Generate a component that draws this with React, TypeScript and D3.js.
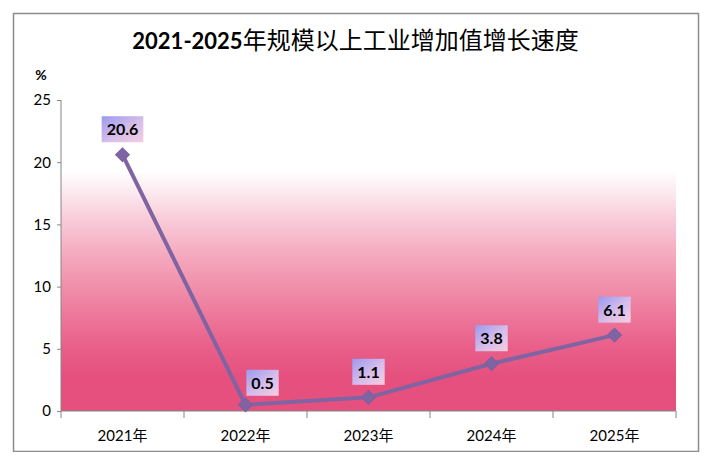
import { useEffect, useRef } from "react";
import * as d3 from "d3";

const categories = ["2021年", "2022年", "2023年", "2024年", "2025年"];
const growth = [20.6, 0.5, 1.1, 3.8, 6.1];
const yTicks = [0, 5, 10, 15, 20, 25];
const titleNum = "2021-2025";
const titleText = "年规模以上工业增加值增长速度";

const FONT = "Lato, 'Noto Sans CJK SC', sans-serif";

export default function App() {
  const svgRef = useRef<SVGSVGElement>(null);

  useEffect(() => {
    if (!svgRef.current) return;
    const width = 711;
    const height = 460;
    const margin = { top: 100, right: 35, bottom: 49, left: 61 };
    const innerW = width - margin.left - margin.right;
    const innerH = height - margin.top - margin.bottom;

    const svg = d3.select(svgRef.current).attr("width", width).attr("height", height);
    svg.selectAll("*").remove();

    const defs = svg.append("defs");
    const bg = defs
      .append("linearGradient")
      .attr("id", "plotBg")
      .attr("x1", 0)
      .attr("y1", 0)
      .attr("x2", 0)
      .attr("y2", 1);
    [
      ["0%", "#ffffff"],
      ["23%", "#ffffff"],
      ["37%", "#f9d0dc"],
      ["51%", "#f4a6bc"],
      ["64%", "#ef85a4"],
      ["79%", "#e9608a"],
      ["89%", "#e5507f"],
      ["100%", "#e5507f"],
    ].forEach(([o, c]) => bg.append("stop").attr("offset", o).attr("stop-color", c));

    const lab = defs
      .append("linearGradient")
      .attr("id", "labBg")
      .attr("x1", 0)
      .attr("y1", 0)
      .attr("x2", 1)
      .attr("y2", 1);
    [
      ["0%", "#9a9af0"],
      ["55%", "#d7bdea"],
      ["100%", "#f6cde0"],
    ].forEach(([o, c]) => lab.append("stop").attr("offset", o).attr("stop-color", c));

    // chart border
    svg
      .append("rect")
      .attr("x", 13.5)
      .attr("y", 13.5)
      .attr("width", 685)
      .attr("height", 438)
      .attr("fill", "#ffffff")
      .attr("stroke", "#8c8c8c")
      .attr("stroke-width", 1.5);

    const title = svg
      .append("text")
      .attr("x", 355.5)
      .attr("y", 49)
      .attr("text-anchor", "middle")
      .style("font-family", FONT)
      .style("fill", "#000");
    title
      .append("tspan")
      .style("font-weight", "700")
      .style("font-size", "22px")
      .text(titleNum);
    title
      .append("tspan")
      .style("font-weight", "400")
      .style("font-size", "24px")
      .text(titleText);

    const g = svg.append("g").attr("transform", `translate(${margin.left},${margin.top})`);

    const x = d3.scaleBand<string>().domain(categories).range([0, innerW]);
    const y = d3.scaleLinear().domain([0, 25]).range([innerH, 0]);

    g.append("rect")
      .attr("width", innerW)
      .attr("height", innerH)
      .attr("fill", "url(#plotBg)");

    // y axis
    const yAxis = g
      .append("g")
      .call(d3.axisLeft(y).tickValues(yTicks).tickSize(4).tickPadding(6));
    yAxis.selectAll("line, path").attr("stroke", "#868686");
    yAxis
      .selectAll("text")
      .style("font-family", FONT)
      .style("font-size", "15px")
      .style("fill", "#000");
    yAxis.select(".domain").attr("d", `M0,0V${innerH}`);

    g.append("text")
      .attr("x", -20)
      .attr("y", -20)
      .attr("text-anchor", "middle")
      .style("font-family", FONT)
      .style("font-size", "14px")
      .style("font-weight", "700")
      .text("%");

    // x axis with ticks at category boundaries
    const xAxis = g.append("g").attr("transform", `translate(0,${innerH})`);
    xAxis
      .append("line")
      .attr("x1", 0)
      .attr("x2", innerW)
      .attr("stroke", "#868686");
    const bounds = [...categories.map((c) => x(c)!), innerW];
    xAxis
      .selectAll("line.tick")
      .data(bounds)
      .join("line")
      .attr("class", "tick")
      .attr("x1", (d) => d)
      .attr("x2", (d) => d)
      .attr("y1", 0)
      .attr("y2", 7)
      .attr("stroke", "#868686");
    xAxis
      .selectAll("text")
      .data(categories)
      .join("text")
      .attr("x", (d) => x(d)! + x.bandwidth() / 2)
      .attr("y", 30)
      .attr("text-anchor", "middle")
      .style("font-family", FONT)
      .style("font-size", "15px")
      .style("fill", "#000")
      .text((d) => d);

    const cx = (i: number) => x(categories[i])! + x.bandwidth() / 2;

    const line = d3
      .line<number>()
      .x((_, i) => cx(i))
      .y((d) => y(d));

    g.append("path")
      .datum(growth)
      .attr("fill", "none")
      .attr("stroke", "#8064a2")
      .attr("stroke-width", 4)
      .attr("stroke-linejoin", "round")
      .attr("d", line);

    const diamond = d3.symbol().type(d3.symbolSquare).size(95);
    g.selectAll("path.marker")
      .data(growth)
      .join("path")
      .attr("class", "marker")
      .attr("d", diamond)
      .attr("transform", (d, i) => `translate(${cx(i)},${y(d)}) rotate(45)`)
      .attr("fill", "#8064a2")
      .attr("stroke", "#7a5fa0")
      .attr("stroke-width", 1);

    // data labels
    growth.forEach((v, i) => {
      const shiftX = i === 1 ? 17 : 0;
      const shiftY = i === 1 ? -22 : -25.5;
      const lx = cx(i) + shiftX;
      const ly = y(v) + shiftY;
      const label = g.append("g").attr("transform", `translate(${lx},${ly})`);
      const txt = label
        .append("text")
        .attr("text-anchor", "middle")
        .attr("y", 6)
        .style("font-family", FONT)
        .style("font-size", "16px")
        .style("font-weight", "700")
        .style("fill", "#000")
        .text(v.toFixed(1));
      const w = (txt.node() as SVGTextElement).getComputedTextLength() + 10;
      label
        .insert("rect", "text")
        .attr("x", -w / 2)
        .attr("y", -13)
        .attr("width", w)
        .attr("height", 26)
        .attr("fill", "url(#labBg)");
    });
  }, []);

  return (
    <div style={{ width: 711, height: 460, margin: -8 }}>
      <svg ref={svgRef} role="img" aria-label="2021-2025年规模以上工业增加值增长速度" />
    </div>
  );
}
